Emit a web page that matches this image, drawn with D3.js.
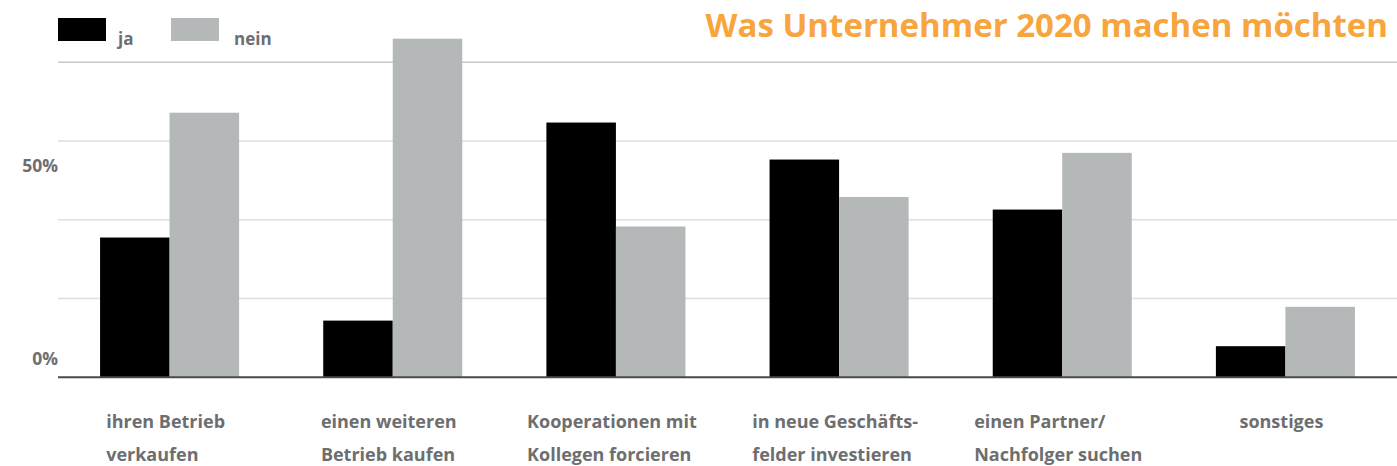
<!DOCTYPE html>
<html>
<head>
<meta charset="utf-8">
<script src="https://cdn.jsdelivr.net/npm/d3@7"></script>
<style>
  body { margin: 0; background: #fff; }
  svg { display: block; }
  text { font-family: "Open Sans", sans-serif; font-weight: 700; }
</style>
</head>
<body>
<div id="root"></div>
<script>
const categories = [
  ['ihren Betrieb', 'verkaufen'],
  ['einen weiteren', 'Betrieb kaufen'],
  ['Kooperationen mit', 'Kollegen forcieren'],
  ['in neue Geschäfts-', 'felder investieren'],
  ['einen Partner/', 'Nachfolger suchen'],
  ['sonstiges']
];
const series = ['ja', 'nein'];
const jaValues = [35.5, 14.4, 64.7, 55.3, 42.6, 7.9];
const neinValues = [67.2, 86.0, 38.3, 45.8, 57.0, 17.9];
const gridTicks = [0, 20, 40, 60, 80];
const axisLabels = [0, 50];
const title = 'Was Unternehmer 2020 machen möchten';

const width = 1397, height = 466;
const colours = { ja: '#000000', nein: '#b5b8b8' };

const chart = d3.select('#root')
  .append('svg:svg')
  .attr('width', width)
  .attr('height', height);

const keys = categories.map(d => d.join(' '));
const rows = keys.map((k, i) => ({ key: k, lines: categories[i], ja: jaValues[i], nein: neinValues[i] }));

const x = d3.scaleBand()
  .domain(keys)
  .range([58, 1397])
  .paddingInner(0.377)
  .paddingOuter(0.1885);
const x1 = d3.scaleBand().domain(series).range([0, x.bandwidth()]);
const y = d3.scaleLinear().domain([0, 80]).range([377.3, 62.3]);

// grid lines
chart.append('g')
  .selectAll('line')
  .data(gridTicks.filter(t => t > 0))
  .enter()
    .append('line')
    .attr('x1', 58)
    .attr('x2', width)
    .attr('y1', d => y(d))
    .attr('y2', d => y(d))
    .attr('stroke', d => d === 80 ? '#c6c8c8' : '#dedede')
    .attr('stroke-width', 1.5);

// y labels (sit above their value, like in the original)
chart.append('g')
  .selectAll('text')
  .data(axisLabels)
  .enter()
    .append('text')
    .attr('x', 58)
    .attr('y', d => y(d) - (d === 0 ? 12 : 8))
    .attr('text-anchor', 'end')
    .attr('font-size', 17.5)
    .attr('fill', '#6d6e70')
    .text(d => d + '%');

// bars
const groups = chart.append('g')
  .selectAll('g')
  .data(rows)
  .enter()
    .append('g')
    .attr('transform', d => `translate(${x(d.key)},0)`);

groups.selectAll('rect')
  .data(d => series.map(s => ({ s, v: d[s] })))
  .enter()
    .append('rect')
    .attr('x', d => x1(d.s))
    .attr('y', d => y(d.v))
    .attr('width', x1.bandwidth())
    .attr('height', d => y(0) - y(d.v))
    .attr('fill', d => colours[d.s]);

// baseline
chart.append('line')
  .attr('x1', 58)
  .attr('x2', width)
  .attr('y1', y(0))
  .attr('y2', y(0))
  .attr('stroke', '#4a4a4a')
  .attr('stroke-width', 2);

// category labels, left aligned block centred under the group
groups.each(function (d) {
  const g = d3.select(this);
  const t = g.append('text')
    .attr('font-family', 'Roboto, sans-serif')
    .attr('font-size', 18)
    .attr('font-weight', 700)
    .attr('fill', '#6d6e70');
  t.selectAll('tspan')
    .data(d.lines)
    .enter()
      .append('tspan')
      .attr('x', 0)
      .attr('y', (l, i) => 428 + i * 33)
      .text(l => l);
  let w = 0;
  t.selectAll('tspan').each(function () { w = Math.max(w, this.getComputedTextLength()); });
  t.attr('transform', `translate(${x.bandwidth() / 2 - w / 2 - 4},0)`);
});

// legend
const legend = chart.append('g');
series.forEach((s, i) => {
  const lx = 58 + i * 113;
  legend.append('rect')
    .attr('x', lx).attr('y', 18)
    .attr('width', 48).attr('height', 23)
    .attr('fill', colours[s]);
  legend.append('text')
    .attr('x', lx + (i === 0 ? 60 : 63)).attr('y', 45)
    .attr('font-size', 17)
    .attr('fill', '#6d6e70')
    .text(s);
});

// title
chart.append('text')
  .attr('x', 1388)
  .attr('y', 37)
  .attr('text-anchor', 'end')
  .attr('font-size', 33)
  .attr('fill', '#f7a53c')
  .text(title);
</script>
</body>
</html>
